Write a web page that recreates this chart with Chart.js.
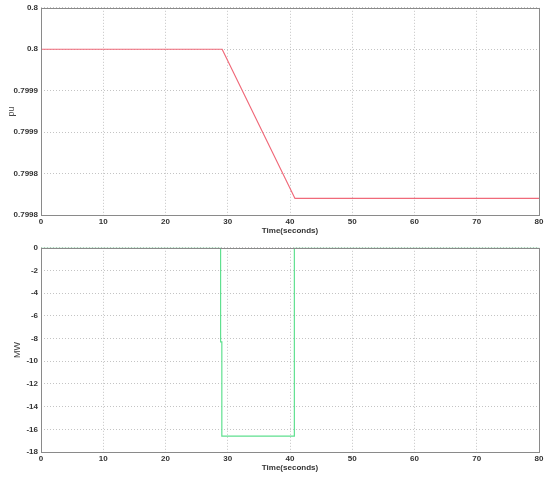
<!DOCTYPE html>
<html>
<head>
<meta charset="utf-8">
<script src="https://cdn.jsdelivr.net/npm/chart.js@4.4.1/dist/chart.umd.min.js"></script>
<style>
html,body{margin:0;padding:0;background:#fff;}
#wrap{position:relative;width:550px;height:478px;}
.box{position:absolute;left:0;width:550px;}
</style>
</head>
<body>
<div id="wrap">
 <div class="box" style="top:0;height:240px"><canvas id="topChart"></canvas></div>
 <div class="box" style="top:240px;height:238px"><canvas id="botChart"></canvas></div>
</div>
<script>
// top panel: pu vs time
const timeTop=[0,29.1,40.8,80];
const puVals=[0.8,0.8,0.79982,0.79982];
const puTicks=[0.7998,0.79985,0.7999,0.79995,0.8,0.80005];
const puTickLabels=['0.7998','0.7998','0.7999','0.7999','0.8','0.8'];

// bottom panel: MW vs time
const timeBot=[0,28.85,28.85,29.05,29.05,40.7,40.7,80];
const mwVals=[0,0,-8.3,-8.3,-16.6,-16.6,0,0];
const mwTicks=[-18,-16,-14,-12,-10,-8,-6,-4,-2,0];

const timeTicks=[0,10,20,30,40,50,60,70,80];

const tickFont={family:'"Liberation Sans", Arial, sans-serif',size:8,weight:'bold'};
const yTitleFont={family:'"Liberation Sans", Arial, sans-serif',size:9,weight:'normal'};
const lblColor='#333';

const boxPlugin={
 id:'box',
 afterDraw(c){
  const a=c.chartArea,ctx=c.ctx;
  ctx.save();
  ctx.strokeStyle='#8a8a8a';
  ctx.lineWidth=1;
  ctx.strokeRect(Math.round(a.left)+0.5,Math.round(a.top)+0.5,Math.round(a.right-a.left),Math.round(a.bottom-a.top));
  ctx.restore();
 }
};

function pts(xs,ys){return xs.map((x,i)=>({x:x,y:ys[i]}));}

function makeChart(id,o){
 return new Chart(document.getElementById(id),{
  type:'line',
  data:{datasets:[{data:pts(o.xs,o.ys),borderColor:o.color,borderWidth:1.2,pointRadius:0,tension:0,fill:false}]},
  plugins:[boxPlugin],
  options:{
   responsive:true,maintainAspectRatio:false,animation:false,
   layout:{padding:{top:o.padTop,right:11,left:0,bottom:0}},
   plugins:{legend:{display:false},tooltip:{enabled:false}},
   scales:{
    x:{
     type:'linear',min:0,max:80,
     afterBuildTicks:s=>{s.ticks=timeTicks.map(v=>({value:v}));},
     afterFit:s=>{s.height=o.xH;},
     grid:{color:'#c4c4c4',drawTicks:false},
     border:{display:false,dash:[1,2]},
     ticks:{padding:2,font:tickFont,color:lblColor,maxRotation:0},
     title:{display:true,text:'Time(seconds)',font:tickFont,color:lblColor,padding:{top:0,bottom:o.titlePad}}
    },
    y:{
     type:'linear',min:o.ymin,max:o.ymax,
     afterBuildTicks:s=>{s.ticks=o.yTicks.map(v=>({value:v}));},
     afterFit:s=>{s.width=41;},
     grid:{color:'#c4c4c4',drawTicks:false},
     border:{display:false,dash:[1,2]},
     ticks:{padding:3,font:tickFont,color:lblColor,callback:o.yCb},
     title:{display:true,text:o.yTitle,font:yTitleFont,color:'#444',padding:{top:o.yTitlePad,bottom:0}}
    }
   }
  }
 });
}

makeChart('topChart',{
 xs:timeTop,ys:puVals,color:'#f06a7a',padTop:7,xH:25,titlePad:4,
 ymin:0.7998,ymax:0.80005,yTicks:puTicks,
 yCb:(v,i)=>puTickLabels[i],
 yTitle:'pu',yTitlePad:6
});

makeChart('botChart',{
 xs:timeBot,ys:mwVals,color:'#5fe08f',padTop:5,xH:26,titlePad:5,
 ymin:-18,ymax:0,yTicks:mwTicks,
 yCb:v=>String(v),
 yTitle:'MW',yTitlePad:12
});
</script>
</body>
</html>
